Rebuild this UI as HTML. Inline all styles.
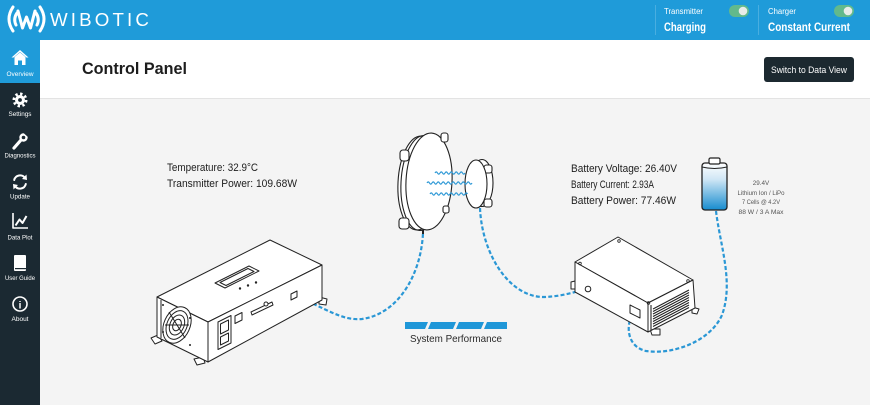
<!DOCTYPE html>
<html><head><meta charset="utf-8"><style>
html,body{margin:0;padding:0;width:870px;height:405px;overflow:hidden;background:#f4f4f4}
svg{display:block}
text{font-family:"Liberation Sans",sans-serif}
</style></head><body>
<svg width="870" height="405" viewBox="0 0 870 405" xmlns="http://www.w3.org/2000/svg">
<defs>
<linearGradient id="bat" x1="0" y1="0" x2="0" y2="1">
<stop offset="0" stop-color="#ffffff"/><stop offset="0.35" stop-color="#cfe6f5"/><stop offset="1" stop-color="#168ccf"/>
</linearGradient>
</defs>
<!-- backgrounds -->
<rect x="0" y="0" width="870" height="405" fill="#f4f4f4"/>
<rect x="40" y="40" width="830" height="58" fill="#ffffff"/>
<rect x="40" y="98" width="830" height="1" fill="#e3e3e3"/>
<rect x="0" y="0" width="870" height="40" fill="#1f9bd9"/>
<rect x="0" y="40" width="40" height="365" fill="#1b2932"/>
<rect x="0" y="40" width="40" height="43" fill="#1f9bd9"/>

<!-- logo -->
<g fill="none" stroke="#fff" stroke-width="3" stroke-linecap="round" stroke-linejoin="round">
<path d="M18,11 L22.5,28 L26.5,17 L30.5,28 L35,11"/>
<path d="M13,7 Q5,19 13,31"/>
<path d="M17,13 Q13,19 16,25"/>
<path d="M40,7 Q48,19 40,31"/>
<path d="M36,13 Q40,19 37,25"/>
</g>
<text x="50" y="26" font-size="18" fill="#fff" letter-spacing="3" textLength="102" lengthAdjust="spacingAndGlyphs">WIBOTIC</text>

<!-- header status -->
<rect x="655" y="5" width="1" height="30" fill="#49aee0"/>
<rect x="758" y="5" width="1" height="30" fill="#49aee0"/>
<text x="664" y="14" font-size="8" fill="#fff" textLength="39" lengthAdjust="spacingAndGlyphs">Transmitter</text>
<text x="664" y="31" font-size="12" font-weight="bold" fill="#fff" textLength="42" lengthAdjust="spacingAndGlyphs">Charging</text>
<rect x="729" y="5" width="20" height="12" rx="6" fill="#62b98c"/>
<circle cx="743" cy="11" r="4.3" fill="#e8ece9"/>
<text x="768" y="14" font-size="8" fill="#fff" textLength="28" lengthAdjust="spacingAndGlyphs">Charger</text>
<text x="768" y="31" font-size="12" font-weight="bold" fill="#fff" textLength="82" lengthAdjust="spacingAndGlyphs">Constant Current</text>
<rect x="834" y="5" width="20" height="12" rx="6" fill="#62b98c"/>
<circle cx="848" cy="11" r="4.3" fill="#e8ece9"/>

<!-- title + button -->
<text x="82" y="74" font-size="17" font-weight="bold" fill="#1d1d1d" textLength="105" lengthAdjust="spacingAndGlyphs">Control Panel</text>
<rect x="764" y="57" width="90" height="25" rx="3" fill="#1c2930"/>
<text x="771" y="73" font-size="9.5" fill="#fff" textLength="76" lengthAdjust="spacingAndGlyphs">Switch to Data View</text>

<!-- sidebar icons -->
<g fill="#fff" stroke="none">
<!-- home -->
<polygon points="11.5,57.5 20,50 28.5,57.5 26.5,57.5 20,52 13.5,57.5"/>
<path d="M14.5,57 L20,52.5 L25.5,57 L25.5,65 L22,65 L22,60.5 L18,60.5 L18,65 L14.5,65 Z"/>
<!-- gear -->
<circle cx="20" cy="100" r="6.2" fill="none" stroke="#fff" stroke-width="2.6" stroke-dasharray="2.4 2.45"/>
<circle cx="20" cy="100" r="5"/>
<circle cx="20" cy="100" r="1.9" fill="#1b2932"/>
</g>
<!-- wrench -->
<g stroke="#fff" fill="none" stroke-linecap="round">
<line x1="14" y1="148" x2="21" y2="140" stroke-width="3.2"/>
<circle cx="23.5" cy="137.5" r="3" stroke-width="2.4"/>
</g>
<path d="M23.5,133 L28,133 L28,137 Z" fill="#1b2932"/>
<!-- refresh -->
<g stroke="#fff" stroke-width="2" fill="none" stroke-linecap="round">
<path d="M14.2,180 A6,6 0 0 1 25,178"/>
<path d="M25.8,184 A6,6 0 0 1 15,186"/>
</g>
<polygon points="26.5,174.5 27,180 22,179" fill="#fff"/>
<polygon points="13.5,189.5 13,184 18,185" fill="#fff"/>
<!-- chart -->
<g stroke="#fff" fill="none" stroke-linejoin="round">
<path d="M13,213 L13,228 L28,228" stroke-width="1.6"/>
<path d="M15.5,225.5 L19.5,219.5 L22.5,223 L26.5,216" stroke-width="2"/>
</g>
<!-- book -->
<rect x="14" y="255" width="12" height="16" rx="1" fill="#fff"/>
<rect x="15" y="268" width="11" height="1.2" fill="#1b2932"/>
<!-- info -->
<circle cx="20" cy="304" r="7" fill="none" stroke="#fff" stroke-width="1.6"/>
<text x="20" y="308.5" font-size="10" font-weight="bold" fill="#fff" text-anchor="middle" font-family="Liberation Serif, serif">i</text>

<g fill="#fff" font-size="6.5">
<text x="20" y="76" text-anchor="middle" textLength="27" lengthAdjust="spacingAndGlyphs">Overview</text>
<text x="20" y="116" text-anchor="middle" textLength="23" lengthAdjust="spacingAndGlyphs">Settings</text>
<text x="20" y="157.5" text-anchor="middle" textLength="31" lengthAdjust="spacingAndGlyphs">Diagnostics</text>
<text x="20" y="198.5" text-anchor="middle" textLength="20" lengthAdjust="spacingAndGlyphs">Update</text>
<text x="20" y="239.5" text-anchor="middle" textLength="25" lengthAdjust="spacingAndGlyphs">Data Plot</text>
<text x="20" y="280" text-anchor="middle" textLength="30" lengthAdjust="spacingAndGlyphs">User Guide</text>
<text x="20" y="321" text-anchor="middle" textLength="17" lengthAdjust="spacingAndGlyphs">About</text>
</g>

<!-- info texts -->
<g fill="#1d1d1d" font-size="11">
<text x="167" y="171" textLength="91" lengthAdjust="spacingAndGlyphs">Temperature: 32.9°C</text>
<text x="167" y="187" textLength="130" lengthAdjust="spacingAndGlyphs">Transmitter Power: 109.68W</text>
<text x="571" y="172" textLength="106" lengthAdjust="spacingAndGlyphs">Battery Voltage: 26.40V</text>
<text x="571" y="188" textLength="83" lengthAdjust="spacingAndGlyphs">Battery Current: 2.93A</text>
<text x="571" y="204" textLength="105" lengthAdjust="spacingAndGlyphs">Battery Power: 77.46W</text>
</g>
<g fill="#555" font-size="6.3" text-anchor="middle">
<text x="761" y="185">29.4V</text>
<text x="761" y="195" textLength="47" lengthAdjust="spacingAndGlyphs">Lithium Ion / LiPo</text>
<text x="761" y="204" textLength="38" lengthAdjust="spacingAndGlyphs">7 Cells @ 4.2V</text>
<text x="761" y="214" textLength="45" lengthAdjust="spacingAndGlyphs">88 W / 3 A Max</text>
</g>

<!-- cables -->
<g fill="none" stroke="#2a97d5" stroke-width="2.2" stroke-dasharray="4 2.2">
<path d="M296,296 C325,308 342,321 362,319 C398,314 421,275 423,233"/>
<path d="M480,208 C482,255 510,298 545,297 C565,296 578,291 588,288"/>
<path d="M716,211 C720,245 734,282 722,315 C710,342 672,355 646,351 C625,346 626,322 634,312"/>
</g>

<!-- transmitter box -->
<g stroke="#222" stroke-width="1" fill="#fff" stroke-linejoin="round">
<polygon points="151,338 158,335 162,341 155,344"/>
<polygon points="194,359 203,357 205,363 197,365"/>
<polygon points="319,297 327,299 326,305 319,304"/>
<polygon points="157,297 270,240 322,265 208,322"/>
<polygon points="157,297 208,322 208,362 157,337"/>
<polygon points="208,322 322,265 322,300 208,362"/>
<polyline points="161,300 161,338" fill="none"/>
<!-- display -->
<polygon points="215,283 249,266 259,271 225,288"/>
<polygon points="220,282.5 248,268.5 254,271.5 226,285.5"/>
<!-- fan -->
<ellipse cx="177" cy="325" rx="13" ry="19" transform="rotate(24 177 325)"/>
<ellipse cx="177" cy="325" rx="10" ry="15" transform="rotate(24 177 325)" fill="none"/>
<ellipse cx="177" cy="325" rx="7" ry="10.5" transform="rotate(24 177 325)" fill="none"/>
<ellipse cx="177" cy="325" rx="4" ry="6" transform="rotate(24 177 325)" fill="none"/>
<line x1="169" y1="312" x2="185" y2="338"/>
<line x1="165" y1="325" x2="189" y2="325"/>
<!-- socket -->
<polygon points="218,322 231,315.5 231,343 218,349.5"/>
<polygon points="220.5,324 228.5,320 228.5,330 220.5,334" fill="none"/>
<polygon points="220.5,337 228.5,333 228.5,341 220.5,345" fill="none"/>
<polygon points="235,316 242,312.5 242,320 235,323.5"/>
<!-- slot -->
<polygon points="251,312 272,302 273,305 252,315"/>
<circle cx="266" cy="304" r="2"/>
<!-- port -->
<polygon points="291,294 297,291 297,297 291,300"/>
</g>
<g fill="#222">
<circle cx="240" cy="288.5" r="1.2"/><circle cx="248" cy="285.5" r="1.2"/><circle cx="256" cy="282.5" r="1.2"/>
<circle cx="163" cy="305" r="1"/><circle cx="190" cy="318" r="1"/><circle cx="163" cy="332" r="1"/><circle cx="190" cy="345" r="1"/>
</g>

<!-- charger box -->
<g stroke="#222" stroke-width="1" fill="#fff" stroke-linejoin="round">
<polygon points="571,282 575,281 575,289 571,289"/>
<polygon points="692,307 699,309 697,314 692,313"/>
<polygon points="650,329 660,329 660,335 652,335"/>
<polygon points="575,262 618,237 693,280 648,303"/>
<polygon points="575,262 648,303 648,332 575,292"/>
<polygon points="648,303 693,280 695,308 648,332"/>
<polygon points="630,305 640,310 640,318 630,313"/>
<circle cx="588" cy="289" r="2.8"/>
</g>
<g stroke="#222" stroke-width="1.1">
<line x1="653" y1="309" x2="689" y2="290"/>
<line x1="653" y1="311.5" x2="689" y2="292.5"/>
<line x1="653" y1="314" x2="689" y2="295"/>
<line x1="653" y1="316.5" x2="689" y2="297.5"/>
<line x1="653" y1="319" x2="689" y2="300"/>
<line x1="653" y1="321.5" x2="689" y2="302.5"/>
<line x1="653" y1="324" x2="689" y2="305"/>
<line x1="653" y1="326.5" x2="689" y2="307.5"/>
<line x1="651" y1="305" x2="651" y2="330"/>
</g>
<g fill="none" stroke="#222" stroke-width="0.8">
<circle cx="580" cy="263.5" r="1.3"/><circle cx="619" cy="241" r="1.3"/><circle cx="688" cy="281" r="1.3"/><circle cx="648.5" cy="303" r="1.3"/>
</g>

<!-- large pad -->
<g stroke="#222" stroke-width="1.1" fill="#fff">
<ellipse cx="419" cy="183" rx="21" ry="47" transform="rotate(3 419 183)"/>
<ellipse cx="422" cy="183" rx="21" ry="47.5" transform="rotate(3 422 183)" fill="none"/>
<rect x="400" y="150" width="9" height="11" rx="3"/>
<rect x="399" y="218" width="10" height="11" rx="3"/>
<ellipse cx="429" cy="181.5" rx="23" ry="48.5" transform="rotate(3 429 181.5)"/>
<rect x="441" y="133" width="7" height="9" rx="2.5"/>
<rect x="443" y="206" width="6" height="7" rx="2"/>
<line x1="423" y1="230" x2="423" y2="234" stroke-width="2"/>
</g>
<!-- small pad -->
<g stroke="#222" stroke-width="1.1" fill="#fff">
<ellipse cx="482" cy="183" rx="11" ry="23.5"/>
<rect x="484" y="165" width="8" height="8" rx="2.5"/>
<rect x="484" y="199" width="8" height="8" rx="2.5"/>
<ellipse cx="476" cy="184" rx="11" ry="24"/>
</g>
<!-- waves -->
<g fill="none" stroke="#2a97d5" stroke-width="1.2">
<path d="M435,173 q1.25,-2.2 2.5,0 t2.5,0 t2.5,0 t2.5,0 t2.5,0 t2.5,0 t2.5,0 t2.5,0 t2.5,0 t2.5,0 t2.5,0 t2.5,0"/>
<path d="M427,183 q1.25,-2.2 2.5,0 t2.5,0 t2.5,0 t2.5,0 t2.5,0 t2.5,0 t2.5,0 t2.5,0 t2.5,0 t2.5,0 t2.5,0 t2.5,0 t2.5,0 t2.5,0 t2.5,0 t2.5,0 t2.5,0 t2.5,0"/>
<path d="M430,194 q1.25,-2.2 2.5,0 t2.5,0 t2.5,0 t2.5,0 t2.5,0 t2.5,0 t2.5,0 t2.5,0 t2.5,0 t2.5,0 t2.5,0 t2.5,0 t2.5,0 t2.5,0 t2.5,0"/>
</g>

<!-- battery -->
<rect x="702" y="163" width="25" height="47" rx="3" fill="url(#bat)" stroke="#222" stroke-width="1.3"/>
<rect x="709" y="158" width="11" height="6" rx="1.5" fill="#fff" stroke="#222" stroke-width="1.2"/>
<path d="M702,167 Q714.5,170 727,167" fill="none" stroke="#222" stroke-width="1"/>

<!-- system performance -->
<polygon points="405,322 428,322 425,329 405,329" fill="#1f97d8"/>
<polygon points="431,322 456,322 453,329 428,329" fill="#1f97d8"/>
<polygon points="459,322 484,322 481,329 456,329" fill="#1f97d8"/>
<polygon points="487,322 507,322 507,329 484,329" fill="#1f97d8"/>
<text x="410" y="342" font-size="10.5" fill="#2a2a2a" textLength="92" lengthAdjust="spacingAndGlyphs">System Performance</text>
</svg>
</body></html>
